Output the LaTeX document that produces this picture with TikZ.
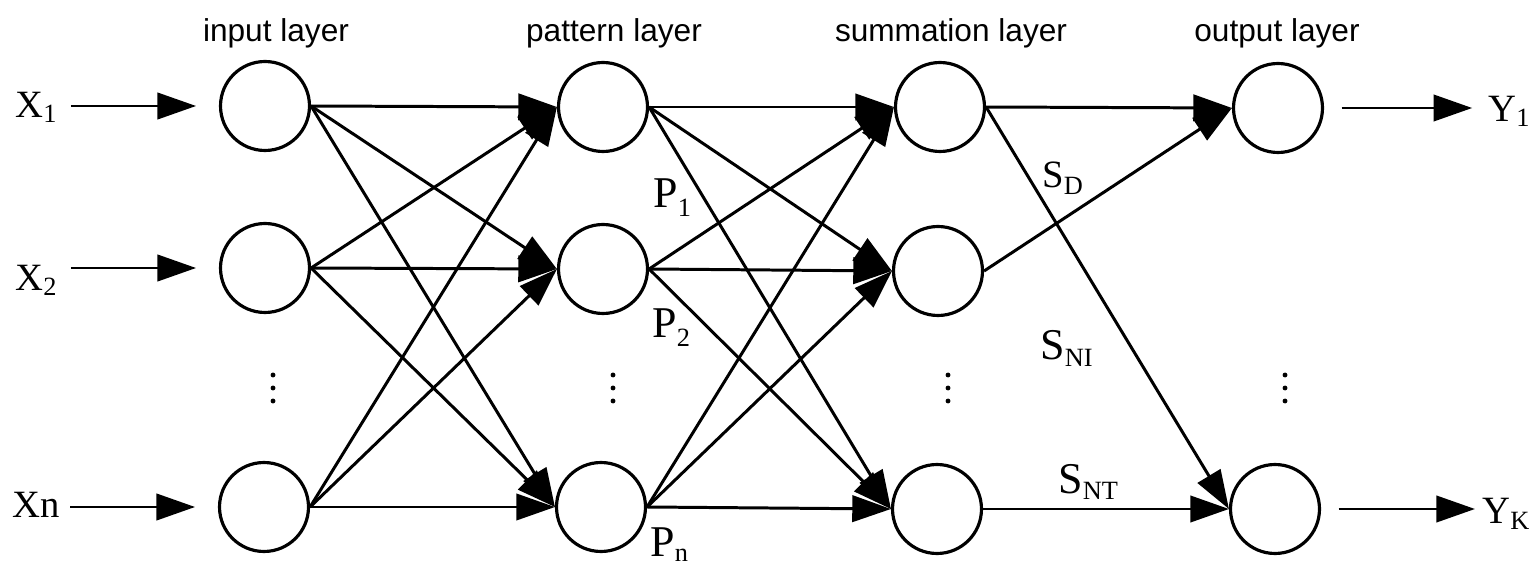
\documentclass[tikz,border=0pt]{standalone}
\usepackage{fontspec}
\setmainfont{Liberation Serif}
\newfontfamily\labsans{Liberation Sans}
\usetikzlibrary{arrows.meta}
\newcommand\lowsub[2][2.8pt]{\raisebox{-#1}{\fontsize{15}{15}\selectfont #2}}
\newcommand\capsub[1]{\raisebox{-3.6pt}{\fontsize{15}{15}\selectfont #1}}
\begin{document}
\begin{tikzpicture}[x=0.02cm,y=-0.02cm,
  neuron/.style={circle,draw,line width=1.8pt,minimum size=1.78cm,inner sep=0pt},
  conn/.style={line width=1.7pt,-{Triangle[length=22pt,width=15pt]}},
  layerlab/.style={font=\labsans\fontsize{18}{18}\selectfont,anchor=base,inner sep=0pt},
  sym/.style={font=\fontsize{22}{22}\selectfont,inner sep=0pt,anchor=base west},
  bigsym/.style={font=\fontsize{25}{25}\selectfont,inner sep=0pt,anchor=base west}
]
\useasboundingbox (0,0) rectangle (1535,567);

% layer titles
\node[layerlab] (tin)  at (276,42)  {input layer};
\node[layerlab] (tpat) at (614,42)  {pattern layer};
\node[layerlab] (tsum) at (951,42)  {summation layer};
\node[layerlab] (tout) at (1277,42) {output layer};

% neurons
\node[neuron] (i1) at (265,106) {};
\node[neuron] (i2) at (265,268) {};
\node[neuron] (i3) at (264,507) {};
\node[neuron] (p1) at (603,107) {};
\node[neuron] (p2) at (603,269) {};
\node[neuron] (p3) at (601,507) {};
\node[neuron] (s1) at (940,107) {};
\node[neuron] (s2) at (938,271) {};
\node[neuron] (s3) at (937,509) {};
\node[neuron] (o1) at (1278,108) {};
\node[neuron] (o3) at (1275,509) {};

% input labels
\node[sym] (x1) at (15,118) {X\lowsub{1}};
\node[sym] (x2) at (15,291) {X\lowsub{2}};
\node[sym] (xn) at (12,517) {Xn};

% output labels
\node[sym] (y1) at (1488,122) {Y\lowsub{1}};
\node[sym] (yk) at (1482,523) {Y\capsub{K}};

% pattern labels
\node[bigsym] (lp1) at (653,208) {P\lowsub[5pt]{1}};
\node[bigsym] (lp2) at (652,338) {P\lowsub[5pt]{2}};
\node[bigsym] (lpn) at (650,556) {P\lowsub[3pt]{n}};

% summation labels
\node[sym]    (lsd)  at (1042,188) {S\capsub{D}};
\node[bigsym] (lsni) at (1040,360) {S\capsub{NI}};
\node[bigsym] (lsnt) at (1058,493) {S\capsub{NT}};

% input arrows
\draw[conn,shorten <=8pt,shorten >=13pt] (x1.east |- i1.west) -- (i1.west);
\draw[conn,shorten <=8pt,shorten >=13pt] (x2.east |- i2.west) -- (i2.west);
\draw[conn,shorten <=6pt,shorten >=13pt] (xn.east |- i3.west) -- (i3.west);

% input -> pattern
\foreach \a in {i1,i2,i3}{
  \foreach \b in {p1,p2,p3}{
    \draw[conn] (\a.east) -- (\b.west);
  }
}
% pattern -> summation
\foreach \a in {p1,p2,p3}{
  \foreach \b in {s1,s2,s3}{
    \draw[conn] (\a.east) -- (\b.west);
  }
}
% summation -> output
\draw[conn] (s1.east) -- (o1.west);
\draw[conn] (s1.east) -- (o3.west);
\draw[conn] (s2.east) -- (o1.west);
\draw[conn] (s3.east) -- (o3.west);

% output arrows
\draw[conn,shorten <=10pt,shorten >=9pt] (o1.east) -- (y1.west |- o1.east);
\draw[conn,shorten <=10pt,shorten >=4pt] (o3.east) -- (yk.west |- o3.east);

% vertical dots
\foreach \x in {273,613,948,1285}{
  \foreach \y in {375,388,401}{
    \fill (\x,\y) circle (1.4pt);
  }
}
\end{tikzpicture}
\end{document}
